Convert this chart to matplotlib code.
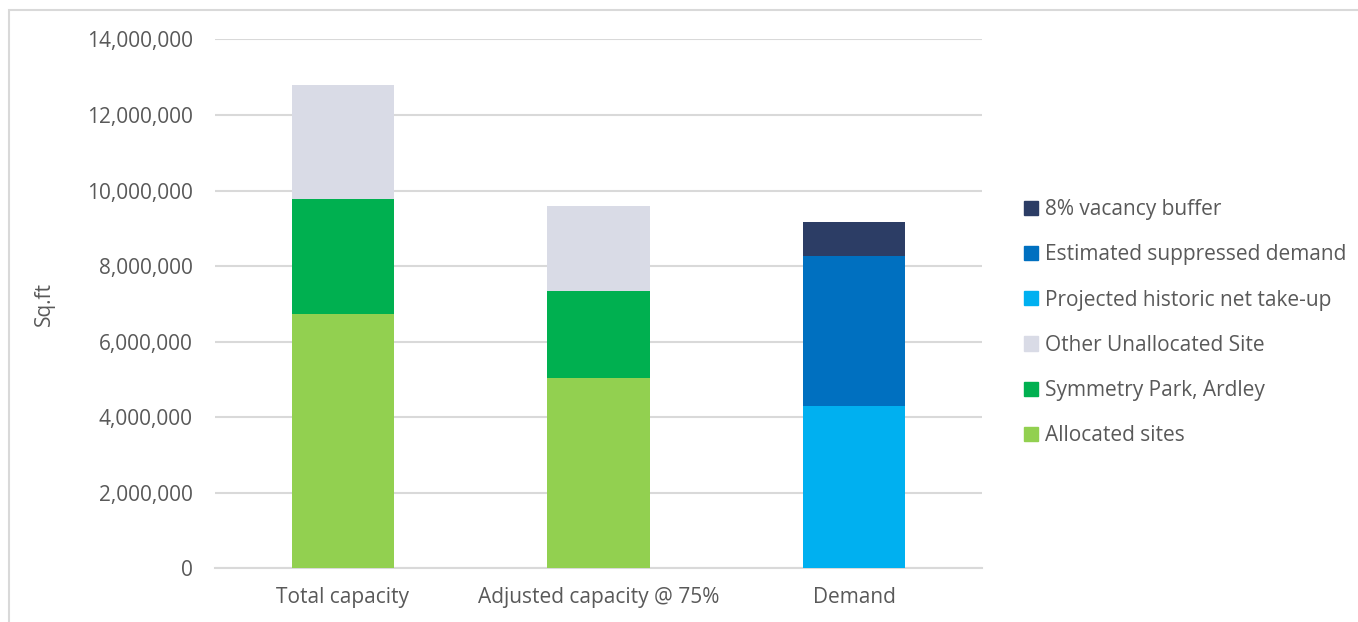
import matplotlib
matplotlib.use('Agg')
import matplotlib.pyplot as plt
import matplotlib.patches as mpatches
from matplotlib.ticker import FuncFormatter

categories = ['Total capacity', 'Adjusted capacity @ 75%', 'Demand']

# stacked segments (sq.ft), bottom to top
allocated = [6720000, 5040000, 0]
symmetry = [3050000, 2290000, 0]
other_unalloc = [3020000, 2260000, 0]
projected = [0, 0, 4290000]
suppressed = [0, 0, 3975000]
vacancy = [0, 0, 900000]

series = [
    ('Allocated sites', allocated, '#92D050'),
    ('Symmetry Park, Ardley', symmetry, '#00B050'),
    ('Other Unallocated Site', other_unalloc, '#D9DBE6'),
    ('Projected historic net take-up', projected, '#00B0F0'),
    ('Estimated suppressed demand', suppressed, '#0070C0'),
    ('8% vacancy buffer', vacancy, '#2C3D65'),
]

yticks = [0, 2000000, 4000000, 6000000, 8000000, 10000000, 12000000, 14000000]

txt = '#595959'
grid = '#D9D9D9'
plt.rcParams['font.family'] = ['Open Sans', 'DejaVu Sans']

fig = plt.figure(figsize=(13.58, 6.22), dpi=100)
ax = fig.add_axes([0.1583, 0.0868, 0.5648, 0.8497])

x = range(len(categories))
bottoms = [0, 0, 0]
handles = []
for name, vals, col in series:
    ax.bar(x, vals, width=0.40, bottom=bottoms, color=col, zorder=3)
    bottoms = [b + v for b, v in zip(bottoms, vals)]
    handles.append(mpatches.Patch(color=col, label=name))

ax.set_xlim(-0.5, 2.5)
ax.set_ylim(0, 14000000)
ax.set_yticks(yticks)
ax.yaxis.set_major_formatter(FuncFormatter(lambda v, p: '{:,.0f}'.format(v)))
ax.set_xticks(list(x))
ax.set_xticklabels(categories)
ax.tick_params(axis='both', length=0, labelsize=15, labelcolor=txt)
ax.tick_params(axis='y', pad=16)
ax.tick_params(axis='x', pad=14)
ax.grid(axis='y', color=grid, linewidth=1.5, zorder=0)
for s in ['top', 'right', 'left']:
    ax.spines[s].set_visible(False)
ax.spines['bottom'].set_color(grid)
ax.spines['bottom'].set_linewidth(1.5)
ax.set_ylabel('Sq.ft', fontsize=15, color=txt, labelpad=23)

leg = fig.legend(handles=handles[::-1], loc='upper left',
                 bbox_to_anchor=(1016 / 1358, 1 - 191 / 622),
                 frameon=False, fontsize=15, labelcolor=txt,
                 handlelength=0.67, handleheight=0.67, handletextpad=0.3,
                 labelspacing=1.16, borderaxespad=0)

# outer chart border
fig.patches.append(mpatches.Rectangle((9 / 1358, -0.1), 1.2, 1 - 10 / 622 + 0.1,
                                      transform=fig.transFigure, fill=False,
                                      edgecolor=grid, linewidth=1.5))

fig.savefig('out.png', dpi=100)
